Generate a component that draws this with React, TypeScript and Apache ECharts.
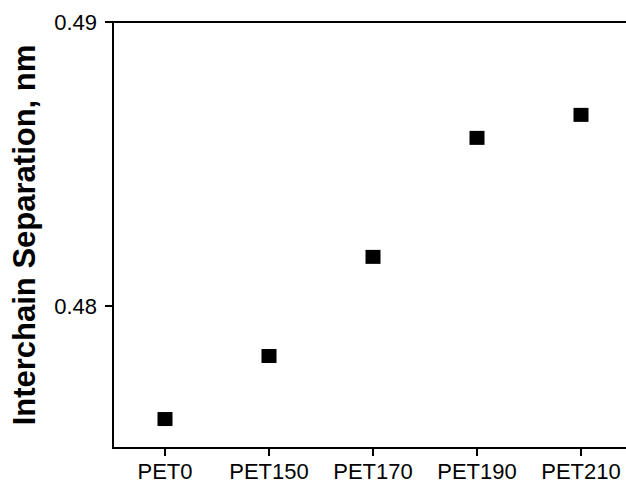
import React, { useEffect, useRef } from "react";
import * as echarts from "echarts";

const categories = ["PET0", "PET150", "PET170", "PET190", "PET210"];
const separation = [0.47602, 0.47824, 0.48173, 0.48592, 0.48673];
const yTicks = [0.48, 0.49];
const yName = "Interchain Separation, nm";

export default function App() {
  const ref = useRef<HTMLDivElement>(null);
  useEffect(() => {
    if (!ref.current) return;
    const chart = echarts.init(ref.current, null, { renderer: "svg" });
    chart.setOption({
      animation: false,
      backgroundColor: "#ffffff",
      grid: {
        left: 113,
        right: -7,
        top: 22,
        bottom: 35,
        outerBoundsMode: "none",
        containLabel: false,
        show: true,
        borderColor: "#000",
        borderWidth: 2,
        backgroundColor: "transparent",
      },
      xAxis: {
        type: "category",
        data: categories,
        boundaryGap: true,
        axisLine: { show: true, lineStyle: { color: "#000", width: 2 } },
        axisTick: { show: true, alignWithLabel: true, interval: 0, length: 8, lineStyle: { color: "#000", width: 2 } },
        axisLabel: {
          color: "#000",
          interval: 0,
          hideOverlap: false,
          fontFamily: "Liberation Sans, Arial, sans-serif",
          fontSize: 22,
          margin: 12,
        },
        splitLine: { show: false },
      },
      yAxis: {
        type: "value",
        min: 0.475,
        max: 0.49,
        name: yName,
        nameLocation: "middle",
        nameRotate: 90,
        nameGap: 73,
        nameMoveOverlap: false,
        nameTextStyle: {
          color: "#000",
          fontFamily: "Liberation Sans, Arial, sans-serif",
          fontSize: 31,
          fontWeight: "bold",
        },
        axisLine: { show: true, lineStyle: { color: "#000", width: 2 } },
        axisTick: { show: true, length: 8, customValues: yTicks, lineStyle: { color: "#000", width: 2 } },
        axisLabel: {
          color: "#000",
          fontFamily: "Liberation Sans, Arial, sans-serif",
          fontSize: 22,
          margin: 16,
          customValues: yTicks,
          formatter: (v: number) => v.toFixed(2),
        },
        splitLine: { show: false },
      },
      series: [
        {
          type: "scatter",
          data: separation,
          symbol: "rect",
          symbolSize: [15, 14],
          itemStyle: { color: "#000", opacity: 1 },
        },
      ],
    });
    return () => chart.dispose();
  }, []);
  return (
    <div
      ref={ref}
      style={{ position: "absolute", left: 0, top: 0, width: 626, height: 483 }}
    />
  );
}
